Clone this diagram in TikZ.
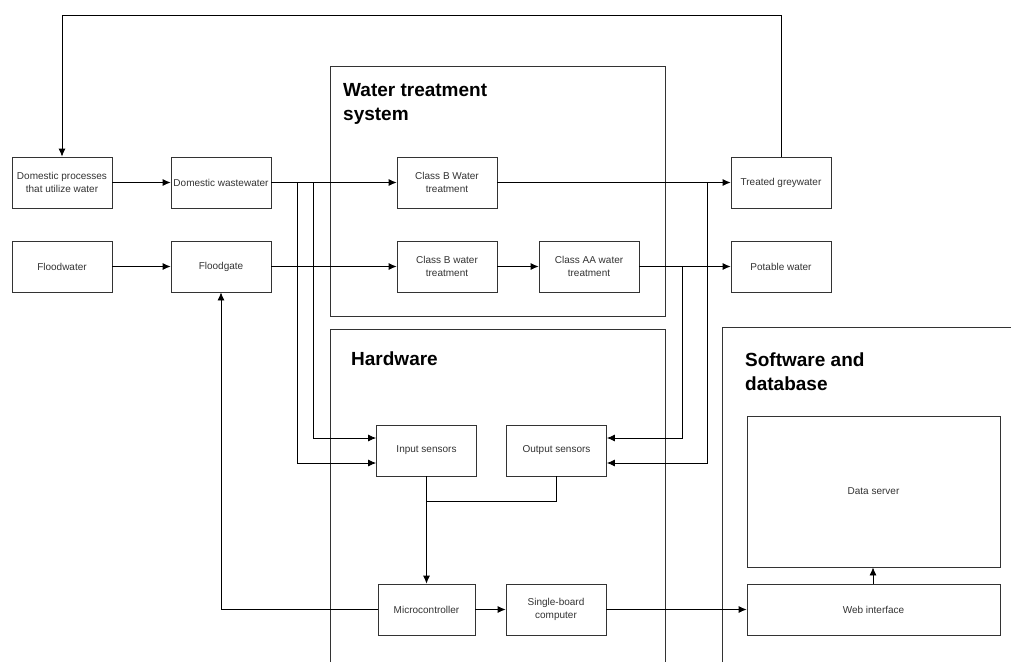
\documentclass[tikz,border=0pt]{standalone}
\usepackage{fontspec}
\setmainfont{Liberation Sans}
\usetikzlibrary{arrows.meta}
\begin{document}
\begin{tikzpicture}[x=1pt,y=-1pt,
  box/.style={draw=black!80, line width=0.8pt, minimum width=100pt, minimum height=51pt,
    inner sep=1pt, align=center, font=\fontsize{10}{13}\selectfont, text=black!80},
  cont/.style={draw=black!80, line width=0.8pt},
  conn/.style={draw=black, line width=0.8pt, -{Latex[length=8pt,width=7pt]}},
  wire/.style={draw=black, line width=0.8pt},
  heading/.style={font=\bfseries\fontsize{19}{24}\selectfont, align=left, anchor=base west, inner sep=0pt}]
\useasboundingbox (0,0) rectangle (1011,662);
\fill[white] (0,0) rectangle (1011,662);

% containers
\draw[cont] (330,66) rectangle (665,316);
\draw[cont] (330,662) -- (330,329) -- (665,329) -- (665,662);
\draw[cont] (722,662) -- (722,327) -- (1011,327);

\node[heading] (hwt) at (343,120.7) {Water treatment\\system};
\node[heading] (hhw) at (351,365) {Hardware};
\node[heading] (hsw) at (745,390) {Software and\\database};

% boxes
\node[box] (dp) at (62,182.5) {Domestic processes\\that utilize water};
\node[box] (dw) at (221,182.5) {Domestic wastewater};
\node[box] (fw) at (62,266.5) {Floodwater};
\node[box] (fg) at (221,266.5) {Floodgate};
\node[box] (cb1) at (447,182.5) {Class B Water\\treatment};
\node[box] (cb2) at (447,266.5) {Class B water\\treatment};
\node[box] (caa) at (589,266.5) {Class AA water\\treatment};
\node[box] (tg) at (781,182.5) {Treated greywater};
\node[box] (pw) at (781,266.5) {Potable water};
\node[box] (is) at (426.5,450.5) {Input sensors};
\node[box] (os) at (556.5,450.5) {Output sensors};
\node[box, minimum width=97pt] (mc) at (426.5,609.5) {Microcontroller};
\node[box] (sbc) at (556,609.5) {Single-board\\computer};
\node[box, minimum width=253pt, minimum height=151pt] (ds) at (873.5,491.5) {Data server};
\node[box, minimum width=253pt] (wi) at (873.5,609.5) {Web interface};

% feedback loop
\coordinate (t1) at (781,15);
\coordinate (t2) at (62,15);
\draw[conn] (tg.north) -- (t1) -- (t2) -- (dp.north);

% main flows
\draw[conn] (dp) -- (dw);
\draw[conn] (fw) -- (fg);
\draw[conn] (dw) -- (cb1);
\draw[conn] (fg) -- (cb2);
\draw[conn] (cb2) -- (caa);
\draw[conn] (caa) -- (pw);
\draw[conn] (cb1) -- (tg);

% sensor taps
\coordinate (a1) at (313,182.5);
\coordinate (a2) at (313,438);
\coordinate (b1) at (297,182.5);
\coordinate (b2) at (297,463);
\draw[conn] (a1) -- (a2) -- (is.west |- a2);
\draw[conn] (b1) -- (b2) -- (is.west |- b2);
\coordinate (c1) at (682,266.5);
\coordinate (c2) at (682,438);
\coordinate (d1) at (707,182.5);
\coordinate (d2) at (707,463);
\draw[conn] (c1) -- (c2) -- (os.east |- c2);
\draw[conn] (d1) -- (d2) -- (os.east |- d2);

% sensors to microcontroller
\coordinate (j) at (426.5,501);
\draw[conn] (is.south) -- (mc.north);
\draw[wire] (os.south) -- (os.south |- j) -- (j);

% controls
\coordinate (f1) at (221,609.5);
\draw[conn] (mc.west) -- (f1) -- (fg.south);
\draw[conn] (mc) -- (sbc);
\draw[conn] (sbc) -- (wi);
\draw[conn] (wi.north -| 873,0) -- (ds.south -| 873,0);
\end{tikzpicture}
\end{document}
